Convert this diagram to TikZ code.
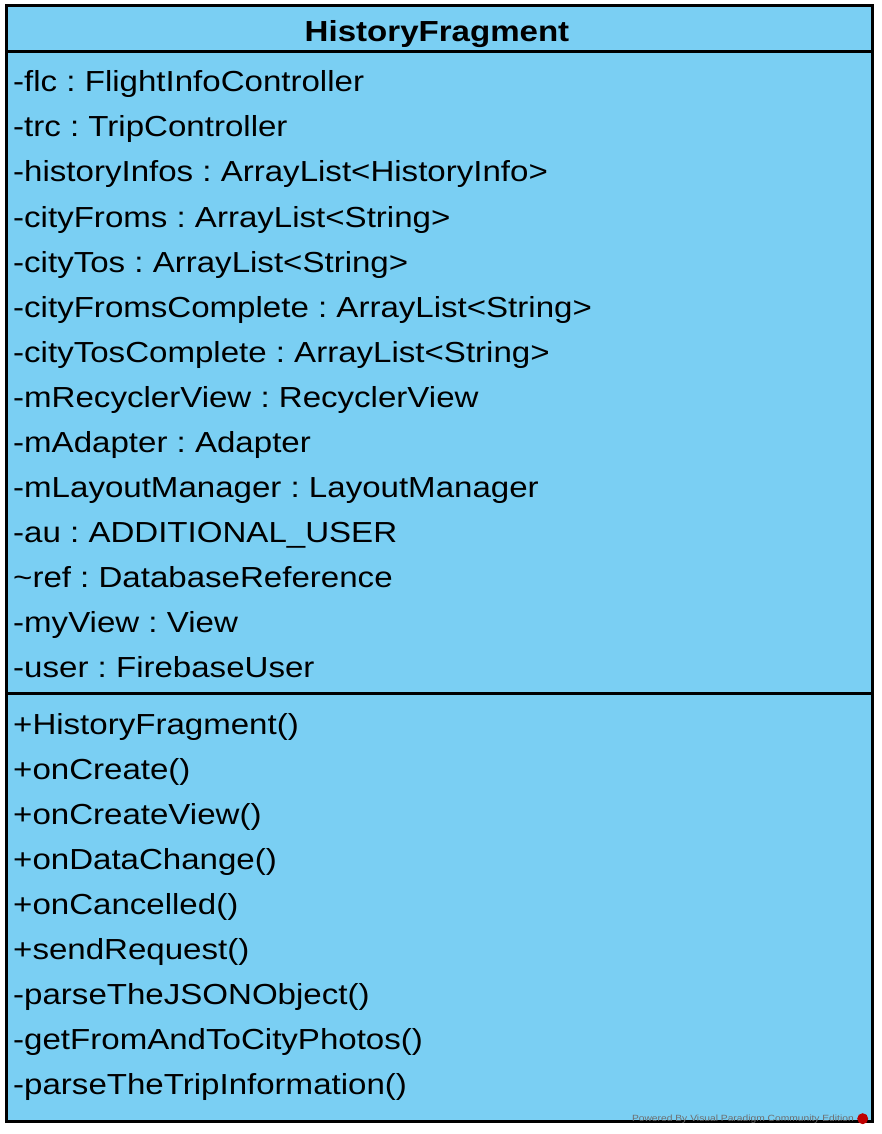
\documentclass[tikz,border=0pt]{standalone}
\usepackage{fontspec}
\usetikzlibrary{positioning}
\setmainfont{Liberation Sans}[FakeStretch=1.14]
\definecolor{classfill}{RGB}{122,207,243}
\definecolor{wmgray}{RGB}{110,110,110}
\tikzset{
  member/.style={anchor=base west, inner sep=0pt, font=\fontsize{29}{35}\selectfont\frenchspacing},
  classname/.style={anchor=base, inner sep=0pt, font=\fontsize{29}{35}\selectfont\bfseries},
}
\begin{document}
\begin{tikzpicture}[x=1pt, y=-1pt]
        \useasboundingbox (0,0) rectangle (882,1134);
        \draw[line width=3pt, fill=classfill] (6,6) rectangle (872.5,1121.5);
        \draw[line width=3pt] (6,51.5) -- (872.5,51.5);
        \draw[line width=3pt] (6,693) -- (872.5,693);
        \node[classname] (name) at (437,42) {HistoryFragment};
        % attributes
        \node[member] (flc) at (13,92) {-flc : FlightInfoController};
        \node[member] (trc) at (13,137) {-trc : TripController};
        \node[member] (hinfo) at (13,182) {-historyInfos : ArrayList<HistoryInfo>};
        \node[member] (cfrom) at (13,227) {-cityFroms : ArrayList<String>};
        \node[member] (cto) at (13,272) {-cityTos : ArrayList<String>};
        \node[member] (cfromc) at (13,317) {-cityFromsComplete : ArrayList<String>};
        \node[member] (ctoc) at (13,362) {-cityTosComplete : ArrayList<String>};
        \node[member] (rv) at (13,407) {-mRecyclerView : RecyclerView};
        \node[member] (adp) at (13,452) {-mAdapter : Adapter};
        \node[member] (lm) at (13,497) {-mLayoutManager : LayoutManager};
        \node[member] (au) at (13,542) {-au : ADDITIONAL\_USER};
        \node[member] (ref) at (13,587) {\char`\~ref : DatabaseReference};
        \node[member] (view) at (13,632) {-myView : View};
        \node[member] (user) at (13,677) {-user : FirebaseUser};
        % operations
        \node[member] (ctor) at (13,734) {+HistoryFragment()};
        \node[member] (oncr) at (13,779) {+onCreate()};
        \node[member] (oncv) at (13,824) {+onCreateView()};
        \node[member] (ondc) at (13,869) {+onDataChange()};
        \node[member] (oncan) at (13,914) {+onCancelled()};
        \node[member] (send) at (13,959) {+sendRequest()};
        \node[member] (pjson) at (13,1004) {-parseTheJSONObject()};
        \node[member] (photos) at (13,1049) {-getFromAndToCityPhotos()};
        \node[member] (ptrip) at (13,1094) {-parseTheTripInformation()};
        % watermark
        \node[anchor=base east, inner sep=0pt, text=wmgray, font=\fontsize{9}{10}\selectfont] (wm) at (854,1121) {Powered By\,\,Visual Paradigm Community Edition};
        \node[circle, fill=red!75!black, inner sep=0pt, minimum size=11pt, right=3pt of wm.east] (logo) {};
\end{tikzpicture}
\end{document}
